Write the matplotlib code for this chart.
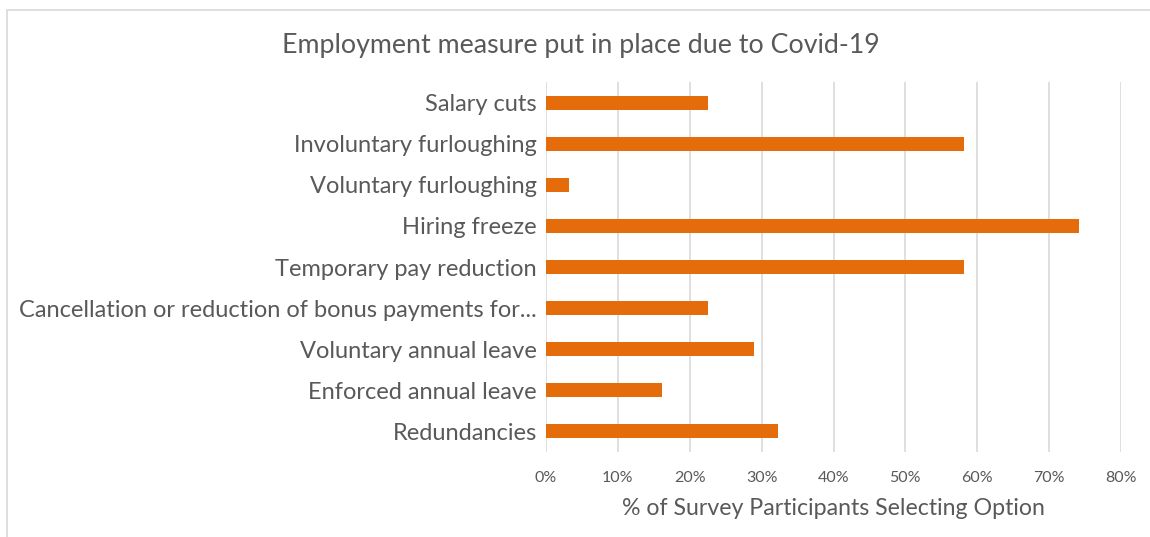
import matplotlib.pyplot as plt
from matplotlib.patches import Rectangle
from matplotlib.ticker import FuncFormatter

# survey answers (share of 31 participants)
measures = ['Salary cuts', 'Involuntary furloughing', 'Voluntary furloughing',
            'Hiring freeze', 'Temporary pay reduction',
            'Cancellation or reduction of bonus payments for...',
            'Voluntary annual leave', 'Enforced annual leave', 'Redundancies']
share = [0.226, 0.581, 0.032, 0.742, 0.581, 0.226, 0.290, 0.161, 0.323]

bar_col = '#E46C0A'
txt_col = '#595959'
plt.rcParams['font.family'] = ['Lato', 'DejaVu Sans']

fig = plt.figure(figsize=(11.5, 5.37), dpi=100)
ax = fig.add_axes([546/1150, 1 - 452/537, 575/1150, 370/537])

ypos = list(range(len(measures)))[::-1]
ax.barh(ypos, share, height=0.34, color=bar_col, zorder=3)
ax.set_ylim(-0.5, len(measures) - 0.5)
ax.set_xlim(0, 0.8)
ax.set_xticks([i / 10 for i in range(9)])
ax.xaxis.set_major_formatter(FuncFormatter(lambda v, p: f'{v*100:.0f}%'))
ax.set_yticks(ypos)
ax.set_yticklabels(measures, fontsize=17, color=txt_col)
ax.tick_params(axis='x', labelsize=11.5, colors=txt_col, length=0, pad=14)
ax.tick_params(axis='y', length=0, pad=6.5)
ax.grid(axis='x', color='#D9D9D9', linewidth=1.2, zorder=0)
for s in ax.spines.values():
    s.set_visible(False)

ax.set_xlabel('% of Survey Participants Selecting Option', fontsize=16.7,
              color=txt_col, labelpad=9)
fig.text(0.505, 1 - 45/537, 'Employment measure put in place due to Covid-19',
         fontsize=19.3, color=txt_col, ha='center', va='center')

# light frame around the chart area
fig.patches.append(Rectangle((7/1150, -0.1), 1.2, 1 - 10/537 + 0.1,
                             transform=fig.transFigure, fill=False,
                             edgecolor='#D9D9D9', linewidth=1.2))

fig.savefig('out.png', dpi=100)
